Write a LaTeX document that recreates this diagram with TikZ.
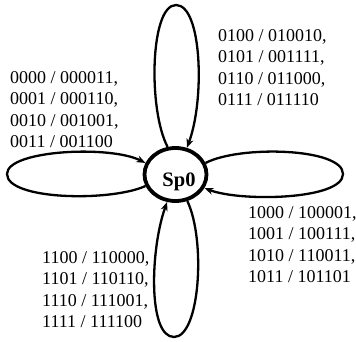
\documentclass[tikz,border=0pt]{standalone}
\usepackage{fontspec}
\setmainfont{Liberation Serif}
\usetikzlibrary{arrows.meta,shapes.geometric}
\begin{document}
\begin{tikzpicture}[x=1pt,y=-1pt,
  lbl/.style={anchor=north west,inner sep=0pt,align=left,font=\fontsize{18}{21.5}\selectfont},
  loopline/.style={line width=2.3pt,-{Stealth[length=9pt,width=7pt]}},
  state/.style={draw,ellipse,line width=3.8pt,minimum width=62pt,minimum height=53pt,inner sep=0pt}]
\useasboundingbox (0,0) rectangle (356,342);
\node[state] (s0) at (175.5,174.5) {};
\node[font=\fontsize{20.5}{24}\selectfont\bfseries,inner sep=0pt] (name) at (179,182) {Sp0};
\draw[loopline] (s0.106) .. controls (148,110) and (150,5) .. (176,5) .. controls (202,5) and (205,100) .. (s0.67);
\draw[loopline] (s0.201) .. controls (110,202) and (7,200) .. (7,174) .. controls (7,150) and (110,145) .. (s0.159);
\draw[loopline] (s0.21) .. controls (240,145) and (343,148) .. (343,174) .. controls (343,200) and (240,202) .. (s0.-25);
\draw[loopline] (s0.-66) .. controls (206,240) and (200,337) .. (174,337) .. controls (148,337) and (150,250) .. (s0.-107);
\node[lbl] (ta) at (10,71) {0000 / 000011,\\0001 / 000110,\\0010 / 001001,\\0011 / 001100};
\node[lbl] (tb) at (218,29) {0100 / 010010,\\0101 / 001111,\\0110 / 011000,\\0111 / 011110};
\node[lbl] (tc) at (248,206) {1000 / 100001,\\1001 / 100111,\\1010 / 110011,\\1011 / 101101};
\node[lbl] (td) at (42,251) {1100 / 110000,\\1101 / 110110,\\1110 / 111001,\\1111 / 111100};
\end{tikzpicture}
\end{document}
